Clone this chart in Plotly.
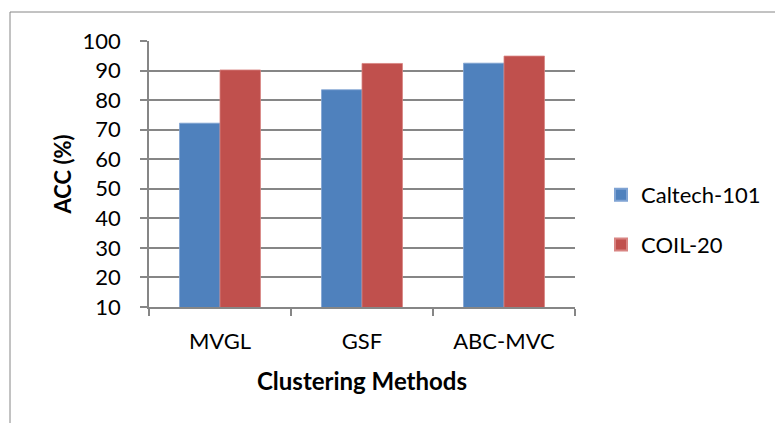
import plotly.graph_objects as go

categories = ["MVGL", "GSF", "ABC-MVC"]
caltech = [72.2, 83.5, 92.5]
coil = [90.2, 92.4, 94.9]
y_ticks = [10, 20, 30, 40, 50, 60, 70, 80, 90, 100]

FONT = "Lato"
GRID = "#868686"

fig = go.Figure()
fig.add_trace(go.Bar(x=categories, y=caltech, name="Caltech-101", legendgroup="a",
                     marker=dict(color="#4F81BD", line=dict(color="#7FA3D3", width=0.8))))
fig.add_trace(go.Bar(x=categories, y=coil, name="COIL-20", legendgroup="b",
                     marker=dict(color="#C0504D", line=dict(color="#D88482", width=0.8))))

# page body adds an 8px offset; figure coordinates are screen - 8
L, R, T, B = 141, 567, 33, 299
W, H = 783, 423
pw, ph = R - L, B - T

def px(x):
    return (x - L) / pw

def py(y):
    return (B - y) / ph

fig.add_shape(type="rect", xref="paper", yref="paper",
              x0=px(2), x1=px(900), y0=py(500), y1=py(4),
              line=dict(color=GRID, width=1), fillcolor="rgba(0,0,0,0)", layer="below")

fig.update_layout(
    width=W, height=H,
    margin=dict(l=L, r=W - R, t=T, b=H - B, pad=0),
    paper_bgcolor="white", plot_bgcolor="white",
    barmode="group", bargap=0.43, bargroupgap=0,
    font=dict(family=FONT, size=22, color="black"),
    legend=dict(x=px(593), y=py(166), xanchor="left", yanchor="top",
                font=dict(size=22), tracegroupgap=18, itemsizing="constant",
                bgcolor="rgba(0,0,0,0)"),
    xaxis=dict(showline=True, linecolor=GRID, linewidth=1.5, ticks="outside",
               tickson="boundaries", ticklen=7, tickcolor=GRID, tickwidth=1.5,
               ticklabelstandoff=14,
               title=dict(text="<b>Clustering Methods</b>", standoff=20,
                          font=dict(size=24))),
    yaxis=dict(range=[10, 100], tickvals=y_ticks, showline=True, linecolor=GRID,
               linewidth=1.5, ticks="outside", ticklen=7, tickcolor=GRID, tickwidth=1.5,
               showgrid=True, gridcolor=GRID, gridwidth=1.5, zeroline=False,
               ticklabelstandoff=15,
               title=dict(text="<b>ACC (%)</b>", standoff=5, font=dict(size=22))),
)

fig.write_html("out.html")
